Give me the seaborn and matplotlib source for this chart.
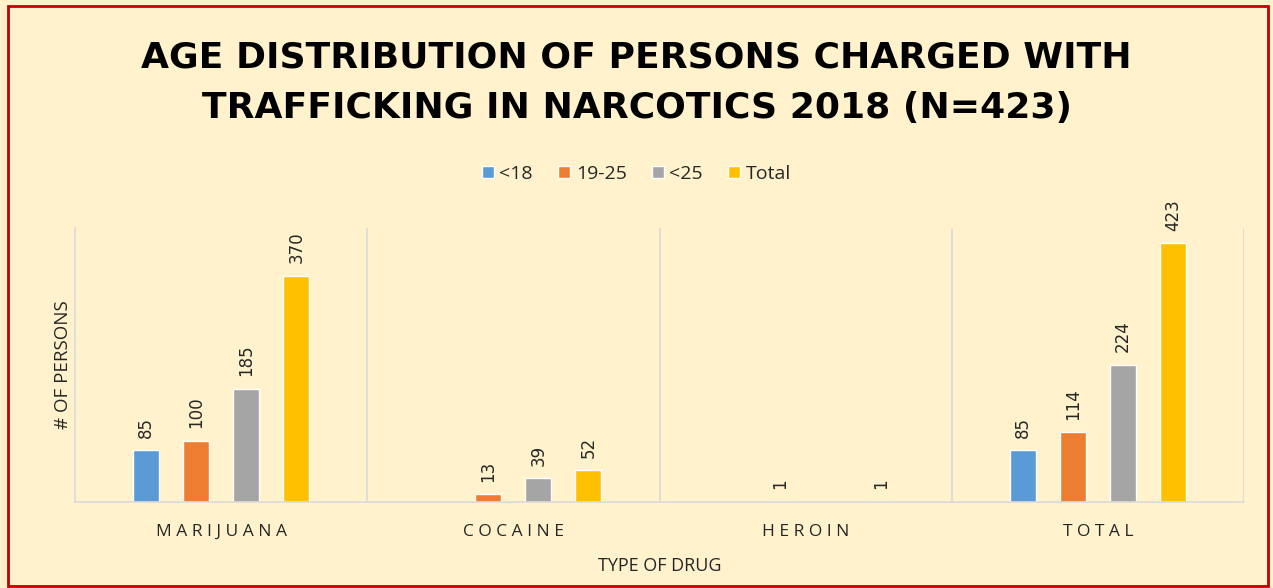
import matplotlib
matplotlib.use("Agg")
import matplotlib.pyplot as plt
from matplotlib.patches import Rectangle
import pandas as pd
import seaborn as sns

# Chart data
drugs = ["MARIJUANA", "COCAINE", "HEROIN", "TOTAL"]
age_groups = ["<18", "19-25", "<25", "Total"]
under_18 = [85, None, None, 85]
age_19_25 = [100, 13, 1, 114]
under_25 = [185, 39, None, 224]
total = [370, 52, 1, 423]

colors = ["#5B9BD5", "#ED7D31", "#A5A5A5", "#FFC000"]
bg = "#FFF2CC"

rows = []
for group, vals in zip(age_groups, [under_18, age_19_25, under_25, total]):
    for drug, v in zip(drugs, vals):
        if v is not None:
            rows.append({"drug": drug, "group": group, "count": v})
df = pd.DataFrame(rows)

sns.set_style("white")
plt.rcParams["font.family"] = ["Open Sans", "DejaVu Sans"]

fig = plt.figure(figsize=(12.73, 5.88), dpi=100, facecolor=bg)
fig.patches.append(Rectangle((0.006, 0.004), 0.99, 0.985, transform=fig.transFigure,
                             fill=False, edgecolor="#C00000", linewidth=2.0))

ax = fig.add_axes([75 / 1273, 1 - 502 / 588, (1244 - 75) / 1273, (502 - 228) / 588])
ax.set_facecolor(bg)

sns.barplot(data=df, x="drug", y="count", hue="group", order=drugs, hue_order=age_groups,
            palette=colors, width=0.685, gap=0.48, ax=ax, saturation=1, legend=True)

for cont in ax.containers:
    ax.bar_label(cont, rotation=90, padding=9, fontsize=12, color="#262626",
                 fontfamily="DejaVu Sans")

ax.set_ylim(0, 448)
ax.set_xlim(-0.5, 3.5)
ax.set_yticks([])
for x in [0.5, 1.5, 2.5, 3.5]:
    ax.axvline(x, color="#D9D9D9", linewidth=1.2, zorder=0)
for side in ["top", "right"]:
    ax.spines[side].set_visible(False)
ax.spines["left"].set_color("#D9D9D9")
ax.spines["bottom"].set_color("#D9D9D9")
ax.spines["left"].set_linewidth(1.2)
ax.spines["bottom"].set_linewidth(1.2)

ax.set_xticks(range(len(drugs)))
ax.set_xticklabels([" ".join(d) for d in drugs], fontsize=12.5, color="#262626")
ax.tick_params(axis="x", length=0, pad=16)
ax.set_xlabel("TYPE OF DRUG", fontsize=13, color="#262626", labelpad=12)
ax.set_ylabel("# OF PERSONS", fontsize=13.5, color="#262626", labelpad=2)

handles, labels = ax.get_legend_handles_labels()
ax.legend(handles, labels, loc="center", bbox_to_anchor=(0.5, 1 - 174 / 588),
          bbox_transform=fig.transFigure, ncol=4, frameon=False, fontsize=14,
          handlelength=0.6, handleheight=0.6, handletextpad=0.3, columnspacing=1.3)

fig.text(0.5, 1 - 58 / 588, "AGE DISTRIBUTION OF PERSONS CHARGED WITH",
         ha="center", va="center", fontsize=26, fontweight="bold", color="black",
         fontfamily="DejaVu Sans")
fig.text(0.5, 1 - 108 / 588, "TRAFFICKING IN NARCOTICS 2018 (N=423)",
         ha="center", va="center", fontsize=26, fontweight="bold", color="black",
         fontfamily="DejaVu Sans")

fig.savefig("out.png", dpi=100, facecolor=bg)
